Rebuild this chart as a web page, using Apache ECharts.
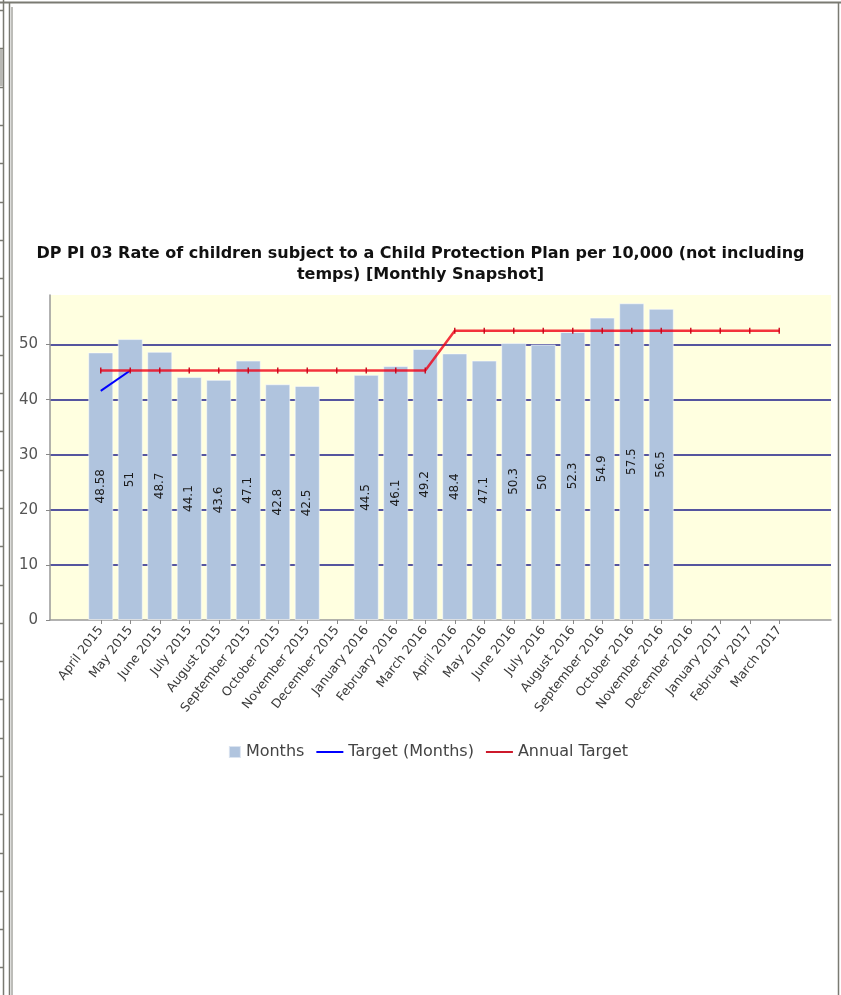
<!DOCTYPE html>
<html>
<head>
<meta charset="utf-8">
<script src="https://cdn.jsdelivr.net/npm/echarts@6/dist/echarts.min.js"></script>
<style>
  html, body { margin: 0; padding: 0; background: #fff; }
  #main { width: 841px; height: 995px; }
</style>
</head>
<body>
<div id="main"></div>
<script>
const months = [
  'April 2015', 'May 2015', 'June 2015', 'July 2015', 'August 2015', 'September 2015',
  'October 2015', 'November 2015', 'December 2015', 'January 2016', 'February 2016', 'March 2016',
  'April 2016', 'May 2016', 'June 2016', 'July 2016', 'August 2016', 'September 2016',
  'October 2016', 'November 2016', 'December 2016', 'January 2017', 'February 2017', 'March 2017'
]
const monthValues = [48.58, 51, 48.7, 44.1, 43.6, 47.1, 42.8, 42.5, null, 44.5, 46.1, 49.2,
  48.4, 47.1, 50.3, 50, 52.3, 54.9, 57.5, 56.5, null, null, null, null]
const targetMonths = [41.6, 45.3, null, null, null, null, null, null, null, null, null, null,
  null, null, null, null, null, null, null, null, null, null, null, null]
const annualTarget = [45.3, 45.3, 45.3, 45.3, 45.3, 45.3, 45.3, 45.3, 45.3, 45.3, 45.3, 45.3,
  52.5, 52.5, 52.5, 52.5, 52.5, 52.5, 52.5, 52.5, 52.5, 52.5, 52.5, 52.5]

const font = 'DejaVu Sans'
const frame = '#7a7a72'

// page frame around the chart
const frameLines = [
  { x1: 3.5, y1: 0, x2: 3.5, y2: 995, w: 1.5 },
  { x1: 9.5, y1: 2, x2: 9.5, y2: 995, w: 1.5 },
  { x1: 12, y1: 7, x2: 12, y2: 995, w: 1 },
  { x1: 0, y1: 2.5, x2: 841, y2: 2.5, w: 2 },
  { x1: 838.5, y1: 3, x2: 838.5, y2: 995, w: 1.5 }
]
const graphics = frameLines.map(l => ({
  type: 'line',
  shape: { x1: l.x1, y1: l.y1, x2: l.x2, y2: l.y2 },
  style: { stroke: frame, lineWidth: l.w }
}))
for (let y = 10; y < 995; y += 38.3) {
  graphics.push({
    type: 'line',
    shape: { x1: 0, y1: Math.round(y) + 0.5, x2: 3, y2: Math.round(y) + 0.5 },
    style: { stroke: frame, lineWidth: 1.5 }
  })
}
graphics.push({ type: 'rect', shape: { x: 0, y: 49, width: 3, height: 37 }, style: { fill: '#b8b8b4' } })

const chart = echarts.init(document.getElementById('main'))
chart.setOption({
  animation: false,
  backgroundColor: '#fff',
  graphic: graphics,
  title: {
    text: 'DP PI 03 Rate of children subject to a Child Protection Plan per 10,000 (not including\ntemps) [Monthly Snapshot]',
    left: 'center',
    top: 238,
    textStyle: { fontFamily: font, fontSize: 16, fontWeight: 'bold', color: '#111', lineHeight: 21 }
  },
  legend: {
    top: 739,
    left: 'center',
    itemWidth: 27,
    itemHeight: 12,
    itemGap: 12,
    textStyle: { fontFamily: font, fontSize: 16, color: '#444' },
    data: [
      { name: 'Months', icon: 'path://M0,0 M15,0 L27,0 L27,12 L15,12 Z M27,12' },
      { name: 'Target (Months)', icon: 'path://M0,0 M0,5 L27,5 L27,7 L0,7 Z M27,12' },
      { name: 'Annual Target', icon: 'path://M0,0 M0,5 L27,5 L27,7 L0,7 Z M27,12' }
    ]
  },
  grid: [
    { left: 50, right: 10, top: 295, bottom: 375, show: true, backgroundColor: '#ffffe0', borderWidth: 0 },
    { left: 86, right: 47, top: 295, bottom: 375 }
  ],
  xAxis: [
    {
      gridIndex: 0, type: 'value', min: 0, max: 1,
      axisLine: { show: true, lineStyle: { color: '#999', width: 1.5 } },
      axisTick: { show: false }, axisLabel: { show: false }, splitLine: { show: false }
    },
    {
      gridIndex: 1, type: 'category', data: months,
      axisLine: { show: false },
      axisTick: { show: true, alignWithLabel: true, length: 4, lineStyle: { color: '#888' } },
      axisLabel: { rotate: 52, fontFamily: font, fontSize: 12.5, color: '#3a3a3a', margin: 8, interval: 0 }
    }
  ],
  yAxis: [
    {
      gridIndex: 0, type: 'value', min: 0, max: 59, interval: 10,
      axisLine: { show: true, lineStyle: { color: '#999', width: 1.5 } },
      axisTick: { show: true, length: 4, lineStyle: { color: '#888' } },
      axisLabel: { fontFamily: font, fontSize: 15, color: '#555', margin: 12, showMaxLabel: false },
      splitLine: { show: true, showMinLine: false, showMaxLine: false, lineStyle: { color: '#1c1c8a', width: 1.5 } }
    },
    { gridIndex: 1, type: 'value', min: 0, max: 59, show: false, splitLine: { show: false } }
  ],
  series: [
    {
      name: 'Months',
      type: 'bar',
      xAxisIndex: 1, yAxisIndex: 1,
      data: monthValues,
      barCategoryGap: '15%',
      itemStyle: { color: '#b0c4de', borderColor: 'rgba(255,255,255,0.55)', borderWidth: 1 },
      label: {
        show: true, position: 'inside', rotate: 90,
        fontFamily: font, fontSize: 12, color: '#1a1a1a'
      }
    },
    {
      name: 'Target (Months)',
      type: 'line',
      xAxisIndex: 1, yAxisIndex: 1,
      data: targetMonths,
      symbol: 'none',
      color: '#0000ff',
      lineStyle: { color: '#0000ff', width: 2 },
      z: 3
    },
    {
      name: 'Annual Target',
      type: 'line',
      xAxisIndex: 1, yAxisIndex: 1,
      data: annualTarget,
      symbol: 'rect',
      symbolSize: [1.5, 6],
      color: 'rgba(235,0,20,0.85)',
      itemStyle: { color: 'rgba(200,0,20,0.9)' },
      lineStyle: { color: 'rgba(240,0,20,0.8)', width: 2.5 },
      z: 4
    }
  ]
})
</script>
</body>
</html>
